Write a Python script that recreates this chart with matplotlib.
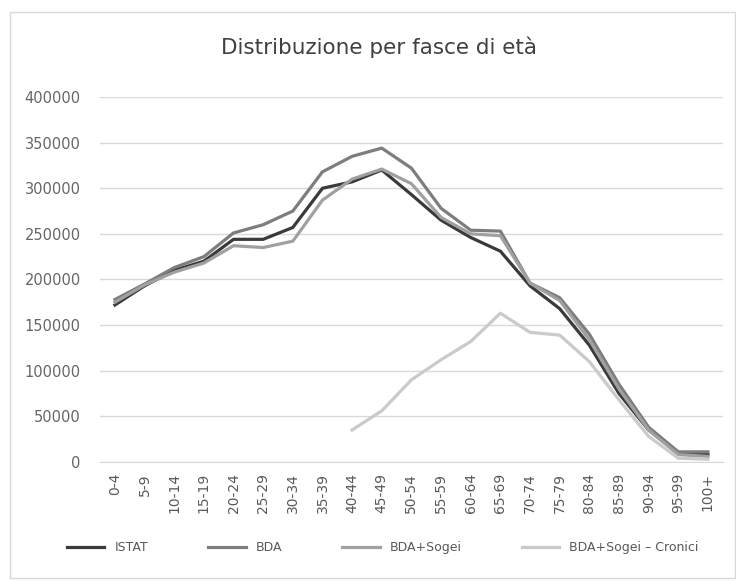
import numpy as np
import matplotlib.pyplot as plt
from matplotlib.patches import Rectangle

# fasce di eta
fasce = ['0-4', '5-9', '10-14', '15-19', '20-24', '25-29', '30-34', '35-39',
         '40-44', '45-49', '50-54', '55-59', '60-64', '65-69', '70-74', '75-79',
         '80-84', '85-89', '90-94', '95-99', '100+']

istat = [172000, 193000, 210000, 220000, 244000, 244000, 257000, 300000, 307000,
         320000, 293000, 265000, 246000, 231000, 193000, 168000, 128000, 75000,
         35000, 9000, 8000]
bda = [178000, 195000, 213000, 225000, 251000, 260000, 275000, 318000, 335000,
       344000, 322000, 278000, 254000, 253000, 196000, 180000, 140000, 85000,
       38000, 11000, 11000]
bda_sogei = [175000, 194000, 208000, 218000, 237000, 235000, 242000, 287000, 310000,
             321000, 305000, 268000, 250000, 248000, 196000, 177000, 134000, 80000,
             35000, 8000, 6000]
# cronici only from 40-44 on
cronici = [np.nan] * 8 + [35000, 56000, 90000, 112000, 132000, 163000, 142000,
                          139000, 110000, 68000, 28000, 4000, 3000]

fig = plt.figure(figsize=(7.36, 5.81), dpi=100)
ax = fig.add_axes([0.136, 0.205, 0.846, 0.628])

x = np.arange(len(fasce))
ax.plot(x, istat, color='#3a3a3a', lw=2.3, label='ISTAT')
ax.plot(x, bda, color='#7d7d7d', lw=2.3, label='BDA')
ax.plot(x, bda_sogei, color='#a0a0a0', lw=2.3, label='BDA+Sogei')
ax.plot(x, cronici, color='#cacaca', lw=2.3, label='BDA+Sogei – Cronici')

ax.set_xlim(-0.5, len(fasce) - 0.5)
ax.set_ylim(0, 400000)
ax.set_yticks(np.arange(0, 400001, 50000))
ax.tick_params(axis='y', length=0, pad=14, labelsize=10.5, labelcolor='#666666')
ax.set_xticks(x)
ax.set_xticklabels(fasce, rotation=90)
ax.tick_params(axis='x', length=0, pad=8, labelsize=10, labelcolor='#595959')
ax.grid(axis='y', color='#d9d9d9', lw=1)
ax.set_axisbelow(True)
for s in ['top', 'right', 'left']:
    ax.spines[s].set_visible(False)
ax.spines['bottom'].set_color('#d9d9d9')

fig.text(0.515, 0.918, 'Distribuzione per fasce di età', ha='center', va='center',
         fontsize=15.5, color='#404040')

fig.legend(loc='center', bbox_to_anchor=(0.52, 0.057), ncol=4, frameon=False,
           fontsize=9, handlelength=3.0, columnspacing=4.8, labelcolor='#595959')

fig.patches.append(Rectangle((0.013, 0.005), 0.985, 0.975, transform=fig.transFigure,
                             fill=False, edgecolor='#d9d9d9', lw=1))

plt.savefig('out.png')
